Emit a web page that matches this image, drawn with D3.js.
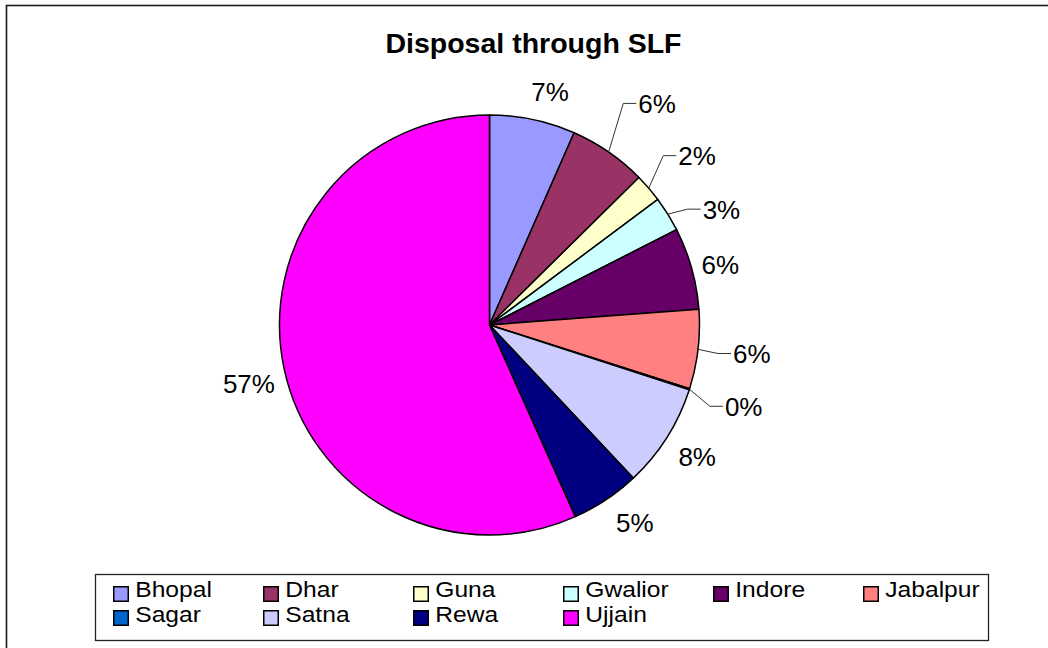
<!DOCTYPE html>
<html>
<head>
<meta charset="utf-8">
<script src="https://cdn.jsdelivr.net/npm/d3@7"></script>
<style>
  html, body { margin: 0; padding: 0; background: #fff; }
  svg { display: block; }
  text { font-family: "Liberation Sans", Arial, Helvetica, sans-serif; fill: #000; }
</style>
</head>
<body>
<svg id="chart" width="1048" height="648"></svg>
<script>
// ---- data ----
const categories = ["Bhopal", "Dhar", "Guna", "Gwalior", "Indore", "Jabalpur", "Sagar", "Satna", "Rewa", "Ujjain"];
const shares = [6.6, 6.0, 2.2, 2.7, 6.3, 6.1, 0.1, 8.0, 5.3, 56.7];
const colors = ["#9999FF", "#993366", "#FFFFCC", "#CCFFFF", "#660066", "#FF8080", "#0066CC", "#CCCCFF", "#000080", "#FF00FF"];
const title = "Disposal through SLF";

// ---- layout (label nudges, like manually dragged Excel labels) ----
const labelNudge = [[10, 7], [28, -19], [21, -9], [23, 14], [-6, 6], [18, 0], [20, 6], [0, 0], [9, -7], [0, 7]];
const leaderLabels = [false, true, true, true, false, true, true, false, false, false];

const svg = d3.select("#chart");
const W = 1048, H = 648;
const cx = 489.5, cy = 325, R = 210;
const labelR = 246;

// outer chart border
svg.append("rect")
  .attr("x", 6.5).attr("y", 5.5)
  .attr("width", W + 20).attr("height", H + 20)
  .attr("fill", "none").attr("stroke", "#1a1a1a").attr("stroke-width", 1.6);

// title
svg.append("text")
  .attr("x", 533.5).attr("y", 53)
  .attr("text-anchor", "middle")
  .attr("font-size", 28.5).attr("font-weight", "bold")
  .text(title);

const data = categories.map((c, i) => ({ name: c, value: shares[i], color: colors[i], i }));
const total = d3.sum(shares);

const pie = d3.pie().value(d => d.value).sort(null).startAngle(0).endAngle(2 * Math.PI);
const arcs = pie(data);
const arc = d3.arc().innerRadius(0).outerRadius(R);

const g = svg.append("g").attr("transform", `translate(${cx},${cy})`);

g.selectAll("path.slice")
  .data(arcs)
  .join("path")
  .attr("class", "slice")
  .attr("d", arc)
  .attr("fill", d => d.data.color)
  .attr("stroke", "#000")
  .attr("stroke-width", 1.5)
  .attr("stroke-linejoin", "round");

// labels
const fs = 26;
arcs.forEach(d => {
  const i = d.data.i;
  const mid = (d.startAngle + d.endAngle) / 2;
  const lx = labelR * Math.sin(mid) + labelNudge[i][0];
  const ly = -labelR * Math.cos(mid) + labelNudge[i][1];
  const txt = Math.round(d.data.value / total * 100) + "%";
  const t = g.append("text")
    .attr("x", lx).attr("y", ly + fs * 0.36)
    .attr("text-anchor", "middle")
    .attr("font-size", fs)
    .text(txt);
  if (leaderLabels[i]) {
    const bb = t.node().getBBox();
    const left = bb.x;
    const ax = R * Math.sin(mid), ay = -R * Math.cos(mid);
    g.append("polyline")
      .attr("points", [[ax, ay], [left - 15, ly], [left - 2, ly]].map(p => p.join(",")).join(" "))
      .attr("fill", "none")
      .attr("stroke", "#333")
      .attr("stroke-width", 1);
  }
});

// legend
const legX0 = 95, legY0 = 574, legW = 893, legH = 66;
svg.append("rect")
  .attr("x", legX0 + 0.5).attr("y", legY0 + 0.5)
  .attr("width", legW).attr("height", legH)
  .attr("fill", "#fff").attr("stroke", "#222").attr("stroke-width", 1.3);

const perRow = 6, colW = 150;
const squareY = [586.75, 610.75];
const baseY = [597, 622];
const leg = svg.append("g");
data.forEach((d, k) => {
  const col = k % perRow, row = Math.floor(k / perRow);
  const sx = 113.75 + col * colW;
  leg.append("rect")
    .attr("x", sx).attr("y", squareY[row])
    .attr("width", 14.5).attr("height", 14.5)
    .attr("fill", d.color).attr("stroke", "#000").attr("stroke-width", 1.5);
  const tx = sx + 21.5;
  leg.append("text")
    .attr("transform", `translate(${tx},${baseY[row]}) scale(1.12,1)`)
    .attr("font-size", 22)
    .text(d.name);
});
</script>
</body>
</html>
